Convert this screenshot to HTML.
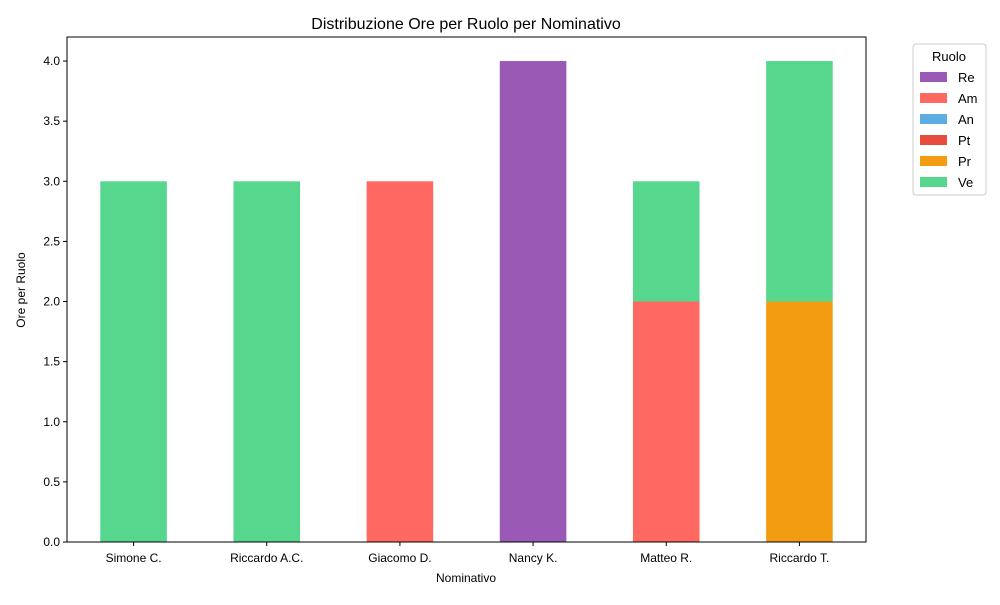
<!DOCTYPE html>
<html><head><meta charset="utf-8"><style>
body{margin:0;background:#fff}
svg{font-family:"Liberation Sans","DejaVu Sans",sans-serif}
</style></head><body>
<svg id="c" width="1000" height="600" xmlns="http://www.w3.org/2000/svg"></svg>
<script>
const categories=["Simone C.","Riccardo A.C.","Giacomo D.","Nancy K.","Matteo R.","Riccardo T."];
const roles=["Re","Am","An","Pt","Pr","Ve"];
const colors=["#9b59b6","#ff6961","#5dade2","#e74c3c","#f39c12","#57d68d"];
const valRe=[0,0,0,4,0,0];
const valAm=[0,0,3,0,2,0];
const valAn=[0,0,0,0,0,0];
const valPt=[0,0,0,0,0,0];
const valPr=[0,0,0,0,0,2];
const valVe=[3,3,0,0,1,2];
const yTicks=[0,0.5,1,1.5,2,2.5,3,3.5,4];
const series=[valRe,valAm,valAn,valPt,valPr,valVe];
const svg=document.getElementById('c');
const NS="http://www.w3.org/2000/svg";
const L=67,R=866,T=37,B=542,yMax=4.2;
const x=i=>L+(i+0.5)*(R-L)/categories.length;
const y=v=>B-v/yMax*(B-T);
const bw=0.5*(R-L)/categories.length;
function mk(tag,a,txt){const e=document.createElementNS(NS,tag);for(const k in a)e.setAttribute(k,a[k]);if(txt!==undefined)e.textContent=txt;svg.appendChild(e);return e;}
categories.forEach((c,i)=>{let base=0;series.forEach((s,j)=>{const v=s[i];if(v>0){const r=mk('rect',{x:x(i)-bw/2,y:y(base+v),width:bw,height:y(base)-y(base+v),fill:colors[j]});

}base+=v;});});
const fr=mk('rect',{x:L,y:T,width:R-L,height:B-T,fill:'none',stroke:'#000','stroke-width':1});

yTicks.forEach(t=>{mk('line',{x1:L-4,x2:L,y1:y(t),y2:y(t),stroke:'#000'});
const e=mk('text',{x:L-7,y:y(t)+4,'text-anchor':'end','font-size':12},t.toFixed(1));
});
categories.forEach((c,i)=>{mk('line',{x1:x(i),x2:x(i),y1:B,y2:B+4,stroke:'#000'});
const e=mk('text',{x:x(i),y:B+20,'text-anchor':'middle','font-size':12},c);
});
let e=mk('text',{x:466,y:29,'text-anchor':'middle','font-size':16},'Distribuzione Ore per Ruolo per Nominativo');

e=mk('text',{x:466,y:582,'text-anchor':'middle','font-size':12},'Nominativo');

e=mk('text',{x:25,y:290,'text-anchor':'middle','font-size':12,transform:'rotate(-90 25 290)'},'Ore per Ruolo');

const lg=mk('rect',{x:913,y:44,width:73,height:151,rx:3,fill:'#fff',stroke:'#ccc'});

e=mk('text',{x:949,y:61,'text-anchor':'middle','font-size':13},'Ruolo');

roles.forEach((r,j)=>{const yy=77+j*21;
const p=mk('rect',{x:920,y:yy-5,width:27,height:10,fill:colors[j]});

const t=mk('text',{x:958,y:yy+5,'font-size':13},r);
});
</script>
</body></html>
